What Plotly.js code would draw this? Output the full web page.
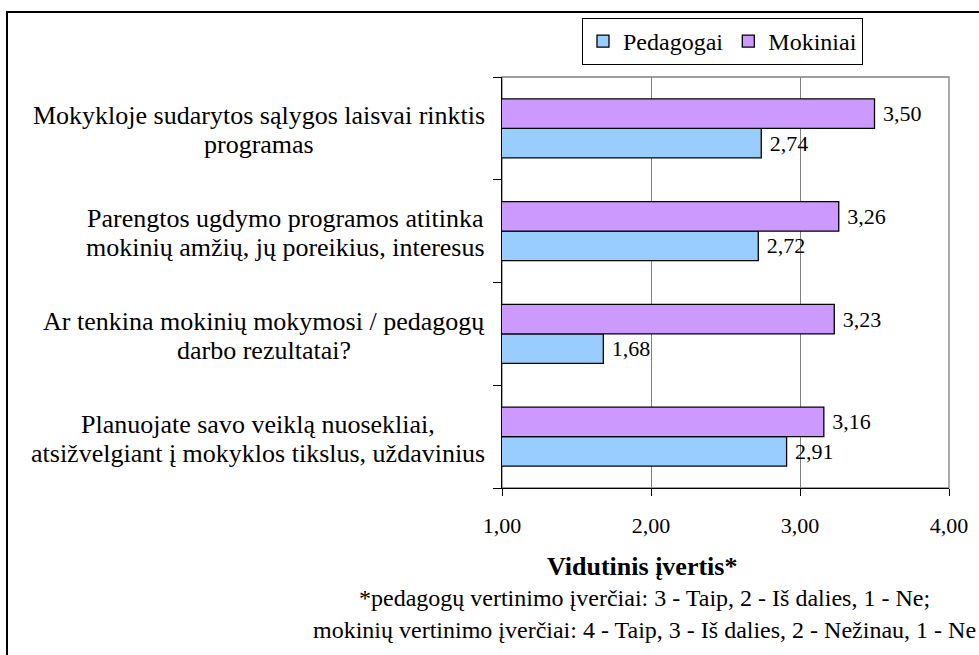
<!DOCTYPE html>
<html>
<head>
<meta charset="utf-8">
<script src="https://cdn.plot.ly/plotly-3.0.1.min.js"></script>
</head>
<body style="margin:0;background:#fff">
<div id="chart" style="width:979px;height:655px"></div>
<script>
// Categories, top to bottom as in the picture
const categories = [
  "Mokykloje sudarytos sąlygos laisvai rinktis<br>programas",
  "Parengtos ugdymo programos atitinka<br>mokinių amžių, jų poreikius, interesus",
  "Ar tenkina mokinių mokymosi / pedagogų<br>darbo rezultatai?",
  "Planuojate savo veiklą nuosekliai,<br>atsižvelgiant į mokyklos tikslus, uždavinius"
];
const pedagogai = [2.74, 2.72, 1.68, 2.91];
const mokiniai = [3.50, 3.26, 3.23, 3.16];
const xTicks = [1, 2, 3, 4];
const seriesNames = ["Pedagogai", "Mokiniai"];
const axisTitle = "Vidutinis įvertis*";
const note1 = "*pedagogų vertinimo įverčiai: 3 - Taip, 2 - Iš dalies, 1 - Ne;";
const note2 = "mokinių vertinimo įverčiai: 4 - Taip, 3 - Iš dalies, 2 - Nežinau, 1 - Ne";

const FONT = "Liberation Serif";
const L = 502, R = 949, T = 77, B = 488;
const px2x = p => (p - L) / (R - L);
const px2y = p => (B - p) / (B - T);

function barTrace(name, vals, color) {
  return {
    type: "bar", orientation: "h", name: name,
    x: vals, y: categories,
    marker: {color: color, line: {color: "#000", width: 1.3}},
    texttemplate: "\u00A0%{x:.2f}", textposition: "outside",
    textfont: {family: FONT, size: 22, color: "#000"},
    constraintext: "none", cliponaxis: false,
    hoverinfo: "skip"
  };
}

const data = [
  barTrace(seriesNames[0], pedagogai, "#99CCFF"),
  barTrace(seriesNames[1], mokiniai, "#CC99FF")
];

// category labels: each line centred under the widest line, block right-aligned
const CAT_SIZE = 26;
const ctx = document.createElement("canvas").getContext("2d");
ctx.font = CAT_SIZE + "px 'Liberation Serif'";
const lineShift = [12.5, -16.5];
const annotations = [];
categories.forEach(c => {
  const lines = c.split("<br>");
  const maxW = Math.max(...lines.map(s => ctx.measureText(s).width));
  const cx = 485 - maxW / 2;
  lines.forEach((s, i) => {
    annotations.push({
      xref: "paper", yref: "y", x: px2x(cx), y: c, yshift: lineShift[i],
      text: s, showarrow: false, xanchor: "center", yanchor: "middle",
      font: {family: FONT, size: CAT_SIZE, color: "#000"}
    });
  });
});
annotations.push({
  xref: "paper", yref: "paper", x: px2x(642), y: px2y(566),
  text: "<b>" + axisTitle + "</b>", showarrow: false, xanchor: "center", yanchor: "middle",
  font: {family: FONT, size: 26, color: "#000"}
});
annotations.push({
  xref: "paper", yref: "paper", x: px2x(644), y: px2y(598),
  text: note1, showarrow: false, xanchor: "center", yanchor: "middle",
  font: {family: FONT, size: 24, color: "#000"}
});
annotations.push({
  xref: "paper", yref: "paper", x: px2x(644), y: px2y(630),
  text: note2, showarrow: false, xanchor: "center", yanchor: "middle",
  font: {family: FONT, size: 24, color: "#000"}
});

const layout = {
  width: 979, height: 655,
  margin: {l: L, r: 979 - R, t: T, b: 655 - B, pad: 0},
  paper_bgcolor: "#fff", plot_bgcolor: "#fff",
  separators: ",.",
  barmode: "group", bargap: 0.426, bargroupgap: 0,
  font: {family: FONT, size: 22, color: "#000"},
  showlegend: true,
  legend: {
    orientation: "h", x: px2x(582), y: px2y(18), xanchor: "left", yanchor: "top",
    bordercolor: "#000", borderwidth: 1, bgcolor: "#fff",
    font: {family: FONT, size: 24, color: "#000"},
    itemwidth: 30, tracegroupgap: 0
  },
  xaxis: {
    range: [1, 4], tickvals: xTicks, tickformat: ".2f",
    showgrid: true, gridcolor: "#808080", gridwidth: 1,
    showline: true, linecolor: "#000", linewidth: 1.3,
    ticks: "outside", ticklen: 7, tickcolor: "#000", tickwidth: 1.3,
    ticklabelstandoff: 10,
    tickfont: {family: FONT, size: 22, color: "#000"},
    zeroline: false, fixedrange: true
  },
  yaxis: {
    type: "category", categoryorder: "array", categoryarray: categories.slice().reverse(),
    showticklabels: false, showgrid: false, zeroline: false,
    showline: true, linecolor: "#000", linewidth: 1.3,
    ticks: "outside", tickson: "boundaries", ticklen: 8, tickcolor: "#000", tickwidth: 1.3,
    fixedrange: true
  },
  shapes: [
    {type: "rect", xref: "paper", yref: "paper", x0: 0, x1: 1, y0: 0, y1: 1,
     line: {color: "#808080", width: 1.3}, layer: "below"},
    {type: "rect", xref: "paper", yref: "paper",
     x0: px2x(7), x1: px2x(1000), y0: px2y(700), y1: px2y(12),
     line: {color: "#000", width: 2}, layer: "below"}
  ],
  annotations: annotations
};

Plotly.newPlot("chart", data, layout, {displayModeBar: false});
</script>
</body>
</html>
